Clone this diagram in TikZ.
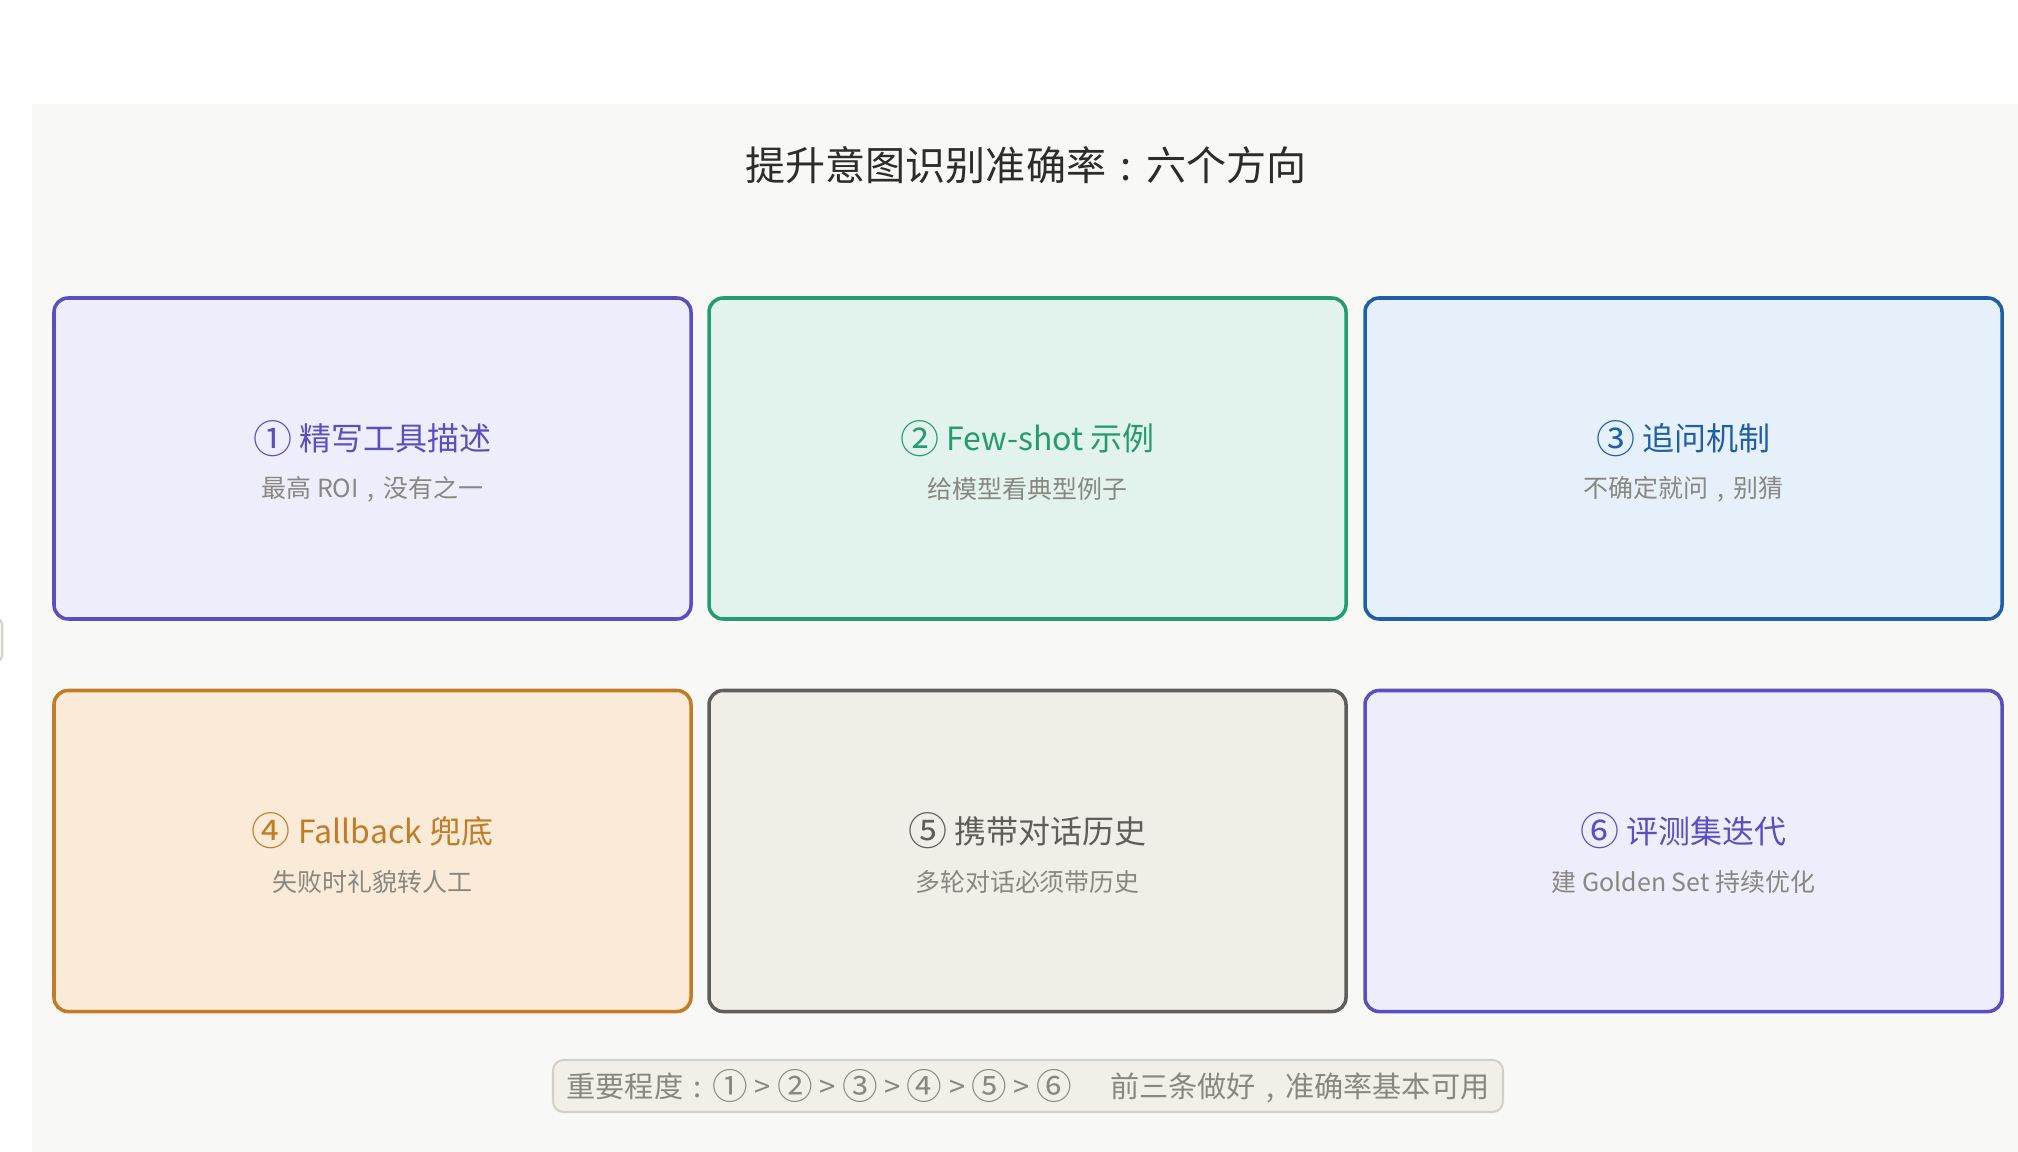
\documentclass[tikz,border=0pt]{standalone}
\usepackage{fontspec}
\usepackage{graphicx}
\setmainfont{Noto Sans CJK SC}
\usetikzlibrary{calc,positioning}
\definecolor{pagebg}{HTML}{F8F8F6}
\definecolor{titlegrey}{HTML}{2C2C2A}
\definecolor{subgrey}{HTML}{888780}
\definecolor{cardpurple}{HTML}{EEEDFC}
\definecolor{linepurple}{HTML}{5A4FBF}
\definecolor{cardgreen}{HTML}{E1F3EC}
\definecolor{linegreen}{HTML}{259C6E}
\definecolor{cardblue}{HTML}{E6F0FB}
\definecolor{lineblue}{HTML}{1F5FA6}
\definecolor{cardorange}{HTML}{FAEBD9}
\definecolor{lineorange}{HTML}{C27C26}
\definecolor{cardgrey}{HTML}{F1EEE8}
\definecolor{linegrey}{HTML}{5F5E5A}
\definecolor{notefill}{HTML}{F1EFE8}
\definecolor{noteline}{HTML}{D3D1C7}
\tikzset{
  card/.style={draw, line width=1pt, rounded corners=4pt, minimum width=6.37cm, minimum height=3.21cm, inner sep=0pt},
  cardtitle/.style={font=\fontsize{9.1}{11}\selectfont, inner sep=0pt},
  cardsub/.style={font=\fontsize{7.1}{9}\selectfont, text=subgrey, inner sep=0pt},
  headline/.style={font=\fontsize{11.4}{14}\selectfont, text=titlegrey, inner sep=0pt},
  notebox/.style={draw=noteline, fill=notefill, line width=0.6pt, rounded corners=3pt, minimum width=9.5cm, minimum height=0.52cm, inner sep=0pt, font=\fontsize{8.3}{10}\selectfont, text=subgrey}
}
% circled number, full colon and comma as drawn in the reference
\newcommand{\circnum}[1]{\raisebox{-0.08em}{\scalebox{1.22}{#1}}}
\newcommand{\wcolon}{\makebox[1em][c]{:}}
\newcommand{\wcomma}{\makebox[1em][c]{,}}
\newcommand{\DirCard}[7]{%
  % #1 name, #2 x, #3 y, #4 fill, #5 line/title colour, #6 title, #7 subtitle
  \node[card, fill=#4, draw=#5] (#1) at (#2,#3) {};
  \node[cardtitle, text=#5] (#1title) at ($(#1.center)+(0,0.20)$) {#6};
  \node[cardsub] (#1sub) at ($(#1.center)+(0,-0.31)$) {#7};
}

\begin{document}
\begin{tikzpicture}

  \useasboundingbox (0,0) rectangle (20.18,-11.52);
  \fill[pagebg] (0.32,-1.04) rectangle (20.18,-11.52);
  \draw[noteline, line width=0.6pt, rounded corners=2pt] (-0.3,-6.18) rectangle (0.02,-6.62);

  % =======================
  % Title
  % =======================
  \node[headline] (title) at (10.26,-1.65) {提升意图识别准确率\wcolon 六个方向};

  % =======================
  % Row 1
  % =======================
  \DirCard{box1}{3.725}{-4.585}{cardpurple}{linepurple}{\circnum{①} 精写工具描述}{最高 ROI\wcomma 没有之一}
  \DirCard{box2}{10.275}{-4.585}{cardgreen}{linegreen}{\circnum{②} Few-shot 示例}{给模型看典型例子}
  \DirCard{box3}{16.835}{-4.585}{cardblue}{lineblue}{\circnum{③} 追问机制}{不确定就问\wcomma 别猜}

  % =======================
  % Row 2
  % =======================
  \DirCard{box4}{3.725}{-8.51}{cardorange}{lineorange}{\circnum{④} Fallback 兜底}{失败时礼貌转人工}
  \DirCard{box5}{10.275}{-8.51}{cardgrey}{linegrey}{\circnum{⑤} 携带对话历史}{多轮对话必须带历史}
  \DirCard{box6}{16.835}{-8.51}{cardpurple}{linepurple}{\circnum{⑥} 评测集迭代}{建 Golden Set 持续优化}

  % =======================
  % Note
  % =======================
  \node[notebox] (note) at (10.28,-10.86) {重要程度\wcolon\circnum{①} > \circnum{②} > \circnum{③} > \circnum{④} > \circnum{⑤} > \circnum{⑥}\hspace{1.3em}前三条做好\wcomma 准确率基本可用};

\end{tikzpicture}
\end{document}
